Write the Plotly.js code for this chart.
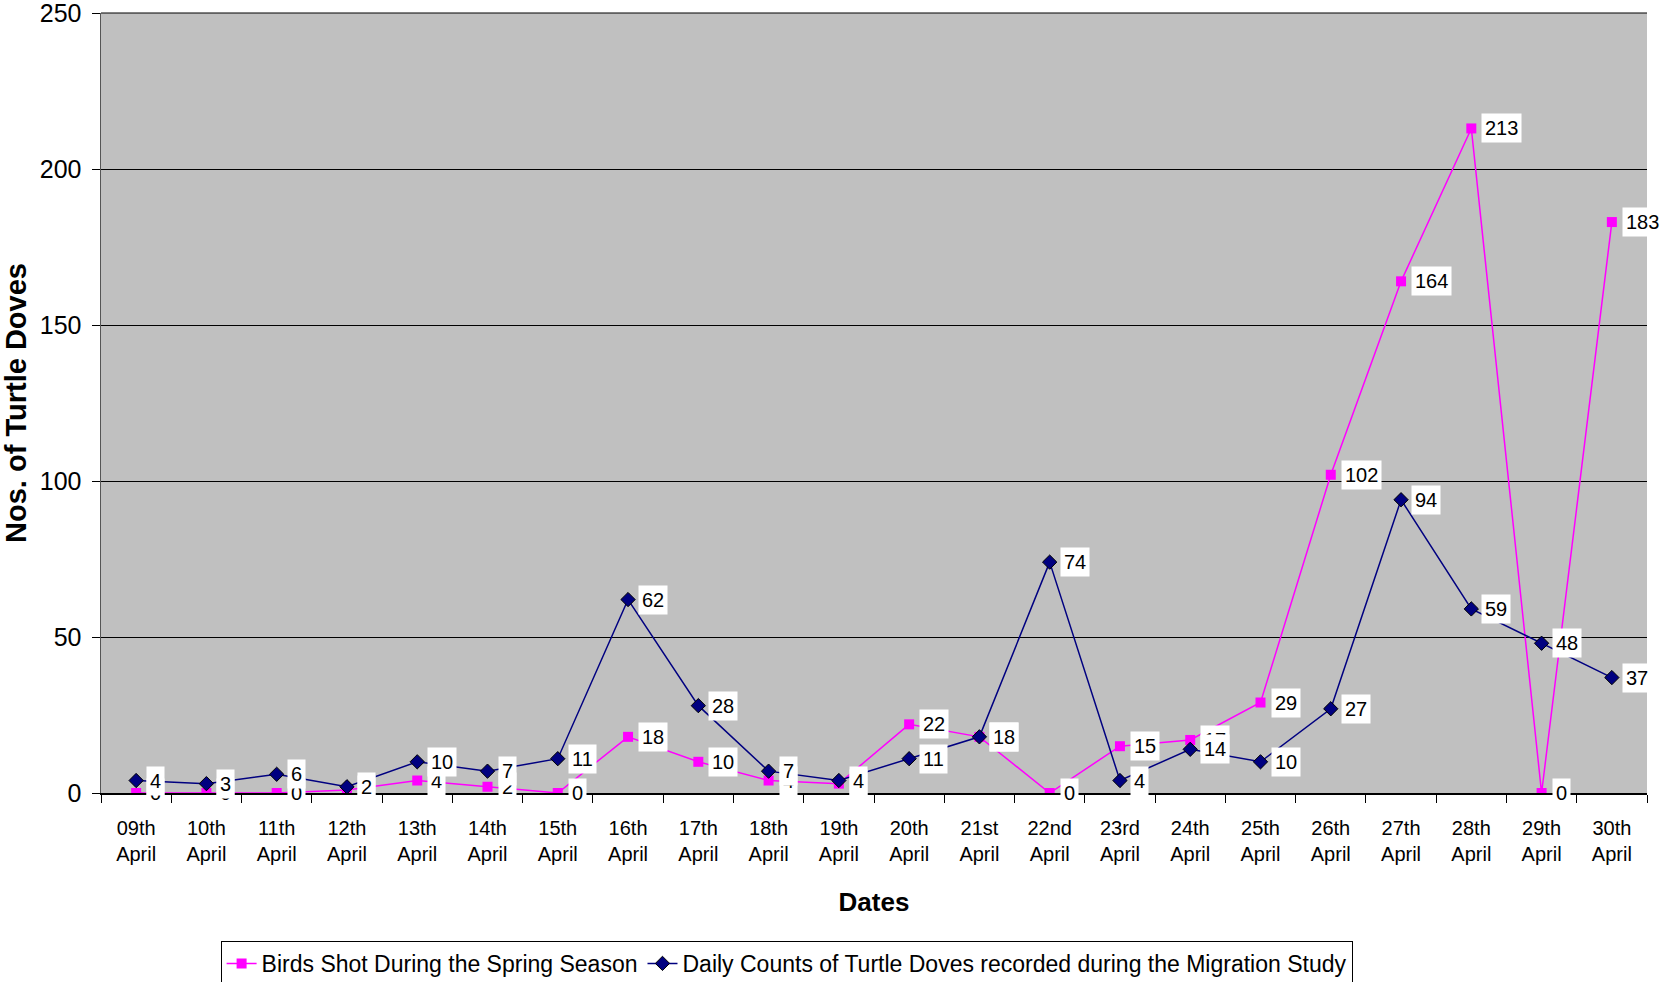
<!DOCTYPE html>
<html>
<head>
<meta charset="utf-8">
<script src="https://cdn.plot.ly/plotly-3.0.1.min.js"></script>
<style>html,body{margin:0;padding:0;background:#fff;}#chart{width:1663px;height:982px;}</style>
</head>
<body>
<div id="chart"></div>
<script>
const dates = ["09th<br>April","10th<br>April","11th<br>April","12th<br>April","13th<br>April","14th<br>April","15th<br>April","16th<br>April","17th<br>April","18th<br>April","19th<br>April","20th<br>April","21st<br>April","22nd<br>April","23rd<br>April","24th<br>April","25th<br>April","26th<br>April","27th<br>April","28th<br>April","29th<br>April","30th<br>April"];
const birdsShot = [0,0,0,1,4,2,0,18,10,4,3,22,18,0,15,17,29,102,164,213,0,183];
const dailyCounts = [4,3,6,2,10,7,11,62,28,7,4,11,18,74,4,14,10,27,94,59,48,37];

const FONT = "Liberation Sans, Arial, sans-serif";
const PINK = "#FF00FF";
const NAVY = "#000080";

const traces = [
  {x: dates, y: birdsShot, type: "scatter", mode: "lines+markers",
   name: "Birds Shot During the Spring Season",
   line: {color: PINK, width: 1.5},
   marker: {symbol: "square", color: PINK, size: 10}},
  {x: dates, y: dailyCounts, type: "scatter", mode: "lines+markers",
   name: "Daily Counts of Turtle Doves recorded during the Migration Study",
   line: {color: NAVY, width: 1.5},
   marker: {symbol: "diamond", color: NAVY, size: 11, line: {color: "#000", width: 1}}}
];

function labels(vals) {
  return vals.map((v, i) => ({
    x: dates[i], y: v, text: String(v), showarrow: false,
    xanchor: "left", yanchor: "middle", xshift: 10,
    bgcolor: "#ffffff", borderpad: 3,
    font: {family: FONT, size: 20, color: "#000"}
  }));
}

const layout = {
  width: 1663, height: 982,
  paper_bgcolor: "#ffffff", plot_bgcolor: "#C0C0C0",
  margin: {l: 101, r: 16, t: 13, b: 189, autoexpand: false},
  font: {family: FONT, color: "#000"},
  showlegend: true,
  legend: {orientation: "h", x: 0.473, xanchor: "center", xref: "container",
           y: 0.0418, yanchor: "top", yref: "container",
           bordercolor: "#000", borderwidth: 1, bgcolor: "#fff",
           font: {family: FONT, size: 23, color: "#000"}},
  xaxis: {type: "category", range: [-0.5, 21.5], showgrid: false, automargin: false,
          showline: true, linecolor: "#000", linewidth: 1.5, mirror: false,
          ticks: "outside", tickson: "boundaries", ticklen: 8, tickcolor: "#000",
          ticklabelstandoff: 16,
          tickfont: {family: FONT, size: 20, color: "#000"},
          title: {text: "<b>Dates</b>", font: {family: FONT, size: 26, color: "#000"}, standoff: 29},
          fixedrange: true},
  yaxis: {range: [0, 250], dtick: 50, showgrid: true, gridcolor: "#000", gridwidth: 1,
          automargin: false, ticklabeloverflow: "allow",
          showline: true, linecolor: "#555", linewidth: 1.5, zeroline: false,
          ticks: "outside", ticklen: 8, tickcolor: "#000",
          ticklabelstandoff: 5,
          tickfont: {family: FONT, size: 25, color: "#000"},
          title: {text: "<b>Nos. of Turtle Doves</b>", font: {family: FONT, size: 29, color: "#000"}, standoff: 11},
          fixedrange: true},
  shapes: [{type: "line", xref: "paper", yref: "paper", x0: 0, x1: 1, y0: 1, y1: 1,
            line: {color: "#000", width: 1}}],
  annotations: labels(birdsShot).concat(labels(dailyCounts))
};

Plotly.newPlot("chart", traces, layout, {displayModeBar: false, staticPlot: true});
</script>
</body>
</html>
